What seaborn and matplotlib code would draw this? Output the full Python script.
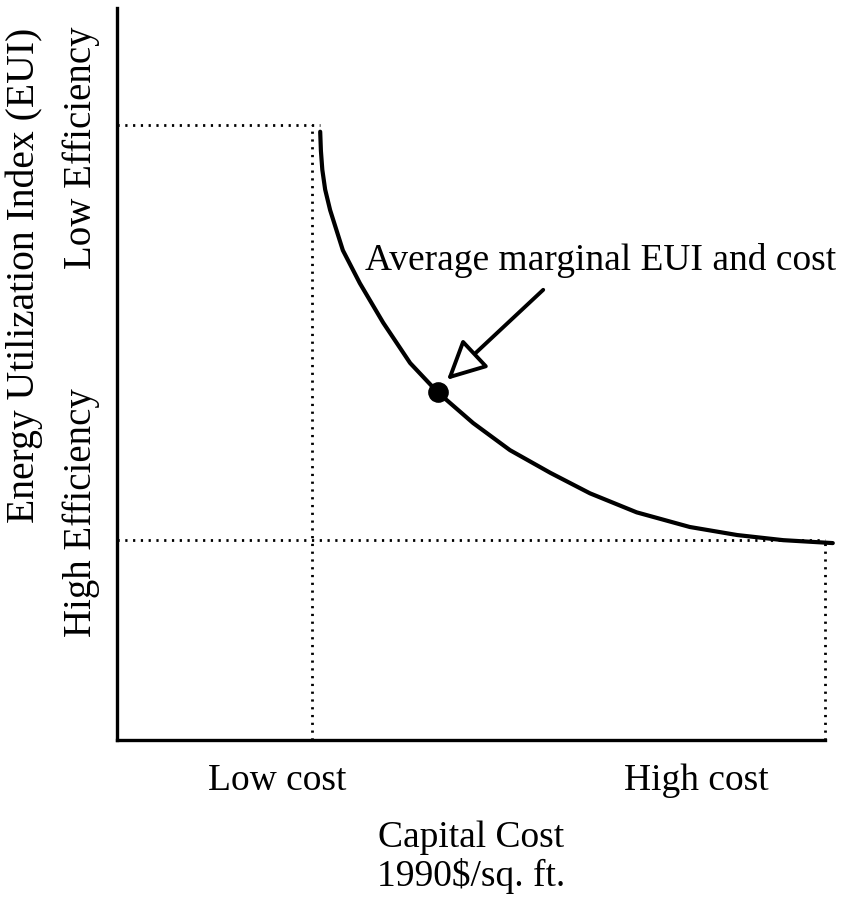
import matplotlib
matplotlib.use("Agg")
import matplotlib.pyplot as plt
import seaborn as sns
import pandas as pd

# --- data (axes run 0..10 on both sides) ---
cost = [2.87, 2.88, 2.90, 2.94, 3.01, 3.19, 3.43, 3.76, 4.14, 4.53, 5.03,
        5.55, 6.12, 6.68, 7.34, 8.09, 8.76, 9.41, 10.11]
eui = [8.31, 8.05, 7.79, 7.52, 7.24, 6.69, 6.24, 5.70, 5.15, 4.75, 4.33,
       3.96, 3.65, 3.37, 3.11, 2.91, 2.80, 2.73, 2.69]

avg_point = (4.53, 4.75)          # average marginal EUI and cost
arrow_tail = (6.02, 6.15)
low_cost_x, high_cost_x = 2.75, 10.0
low_eff_y, high_eff_y = 2.73, 8.40

x_tick_pos = [2.26, 8.18]
x_tick_labels = ["Low cost", "High cost"]
y_tick_pos = [3.11, 8.09]
y_tick_labels = ["High Efficiency", "Low Efficiency"]

df = pd.DataFrame({"cost": cost, "eui": eui})

sns.set_style("white")
plt.rcParams["font.family"] = ["Liberation Serif", "DejaVu Serif"]
for k in ["text.color", "axes.labelcolor", "xtick.color", "ytick.color"]:
    plt.rcParams[k] = "black"

fig = plt.figure(figsize=(8.45, 9.08), dpi=100)
ax = fig.add_axes([117 / 845, 168 / 908, 708 / 845, 732 / 908])

# guide lines (dotted)
dot = dict(color="black", lw=2.0, linestyle=(0, (0.8, 2.0)), clip_on=False)
ax.plot([0, low_cost_x + 0.12], [high_eff_y, high_eff_y], **dot)
ax.plot([low_cost_x, low_cost_x], [0, high_eff_y], **dot)
ax.plot([0, high_cost_x], [low_eff_y, low_eff_y], **dot)
ax.plot([high_cost_x, high_cost_x], [0, low_eff_y], **dot)

# the curve and the average point
sns.lineplot(data=df, x="cost", y="eui", ax=ax, color="black", lw=3,
             sort=False, clip_on=False)
sns.scatterplot(x=[avg_point[0]], y=[avg_point[1]], ax=ax, color="black",
                s=190, edgecolor="black", zorder=5)

ax.annotate("", xy=(avg_point[0] + 0.13, avg_point[1] + 0.17),
            xytext=arrow_tail,
            arrowprops=dict(arrowstyle="-|>,head_length=2.4,head_width=1.2",
                            fc="white", ec="black", lw=2.8, shrinkA=0, shrinkB=0))
ax.text(3.50, 6.42, "Average marginal EUI and cost", fontsize=27,
        ha="left", va="baseline")

ax.set_xlim(0, 10)
ax.set_ylim(0, 10)
for s in ["top", "right"]:
    ax.spines[s].set_visible(False)
for s in ["left", "bottom"]:
    ax.spines[s].set_linewidth(2.4)
    ax.spines[s].set_color("black")

ax.set_xticks(x_tick_pos)
ax.set_xticklabels(x_tick_labels, fontsize=27)
ax.set_yticks(y_tick_pos)
ax.set_yticklabels(y_tick_labels, fontsize=28, rotation=90, va="center")
ax.tick_params(axis="both", length=0)
ax.tick_params(axis="x", pad=17)
ax.tick_params(axis="y", pad=12)

ax.set_xlabel("Capital Cost\n1990$/sq. ft.", fontsize=27, linespacing=1.1)
ax.xaxis.set_label_coords(0.50, -0.11)
ax.xaxis.label.set_va("top")
ax.set_ylabel("Energy Utilization Index (EUI)", fontsize=28.5)
ax.yaxis.set_label_coords(-0.105, 0.635)

fig.savefig("out.png", dpi=100, facecolor="white")
